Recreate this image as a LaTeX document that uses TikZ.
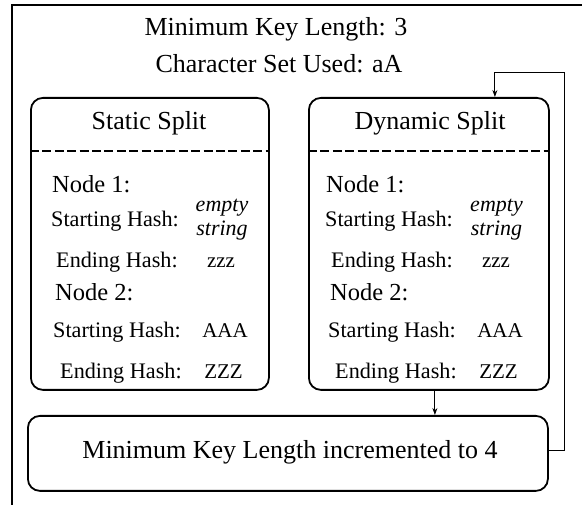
\documentclass[tikz,border=0pt]{standalone}
\usepackage{fontspec}
\setmainfont{Liberation Serif}
\usetikzlibrary{arrows.meta}
\begin{document}
\begin{tikzpicture}[x=1pt,y=-1pt,
  panel/.style={draw, line width=1.8pt, rounded corners=12pt, inner sep=0pt},
  divider/.style={line width=1.3pt, dash pattern=on 9pt off 3.4pt},
  conn/.style={line width=1pt, -{Stealth[length=7pt,width=5pt]}},
  titletext/.style={inner sep=0pt, anchor=base, font=\fontsize{26}{28}\selectfont},
  headtext/.style={inner sep=0pt, anchor=base, font=\fontsize{26}{28}\selectfont},
  nodetext/.style={inner sep=0pt, anchor=base west, font=\fontsize{24.5}{26}\selectfont},
  hashtext/.style={inner sep=0pt, anchor=base west, font=\fontsize{22.2}{24}\selectfont},
  valtext/.style={inner sep=0pt, anchor=base, font=\fontsize{21}{23}\selectfont},
  emptytext/.style={inner sep=0pt, anchor=base, font=\fontsize{22}{24}\selectfont\itshape},
  bottomtext/.style={inner sep=0pt, anchor=base, font=\fontsize{26}{28}\selectfont}]
\useasboundingbox (0,0) rectangle (582,505);

% frame
\draw[line width=2pt] (12,505) -- (12,5) -- (582,5);

% header lines
\node[titletext] (minlen) at (276,36) {Minimum Key Length: 3};
\node[titletext] (charset) at (279,72.5) {Character Set Used: aA};

% the two split panels
\node[panel, anchor=north west, minimum width=238pt, minimum height=292pt] (static) at (30,97) {};
\node[panel, anchor=north west, minimum width=240pt, minimum height=292pt] (dynamic) at (308,97) {};
\draw[divider] ([yshift=-54pt]static.north west) -- ([yshift=-54pt]static.north east);
\draw[divider] ([yshift=-54pt]dynamic.north west) -- ([yshift=-54pt]dynamic.north east);

% static split contents
\node[headtext] (shead) at (149,130) {Static Split};
\node[nodetext] (sn1) at (52,193) {Node 1:};
\node[hashtext] (ss1) at (51,227) {Starting Hash:};
\node[emptytext] (sv1a) at (222,212) {empty};
\node[emptytext] (sv1b) at (222,236) {string};
\node[hashtext] (se1) at (56,268) {Ending Hash:};
\node[valtext] (sv2) at (221,268) {zzz};
\node[nodetext] (sn2) at (55,301) {Node 2:};
\node[hashtext] (ss2) at (53,338) {Starting Hash:};
\node[valtext] (sv3) at (225,338) {AAA};
\node[hashtext] (se2) at (60,379) {Ending Hash:};
\node[valtext] (sv4) at (223.5,379) {ZZZ};

% dynamic split contents
\node[headtext] (dhead) at (430,130) {Dynamic Split};
\node[nodetext] (dn1) at (326,193) {Node 1:};
\node[hashtext] (ds1) at (325,227) {Starting Hash:};
\node[emptytext] (dv1a) at (496.5,212) {empty};
\node[emptytext] (dv1b) at (496.5,236) {string};
\node[hashtext] (de1) at (331,268) {Ending Hash:};
\node[valtext] (dv2) at (496,268) {zzz};
\node[nodetext] (dn2) at (330,301) {Node 2:};
\node[hashtext] (ds2) at (328,338) {Starting Hash:};
\node[valtext] (dv3) at (500,338) {AAA};
\node[hashtext] (de2) at (335,379) {Ending Hash:};
\node[valtext] (dv4) at (498.5,379) {ZZZ};

% increment box
\node[panel, anchor=north west, minimum width=520pt, minimum height=75pt] (incr) at (27,415) {};
\node[bottomtext] (incrtext) at (290,459) {Minimum Key Length incremented to 4};

% connectors
\draw[conn] ([xshift=6pt]dynamic.south) -- ([xshift=6pt]dynamic.south |- incr.north);
\coordinate (loop) at (564,73);
\draw[conn] ([yshift=3pt]incr.east) -| (loop) -| ([xshift=66pt]dynamic.north);
\end{tikzpicture}
\end{document}
